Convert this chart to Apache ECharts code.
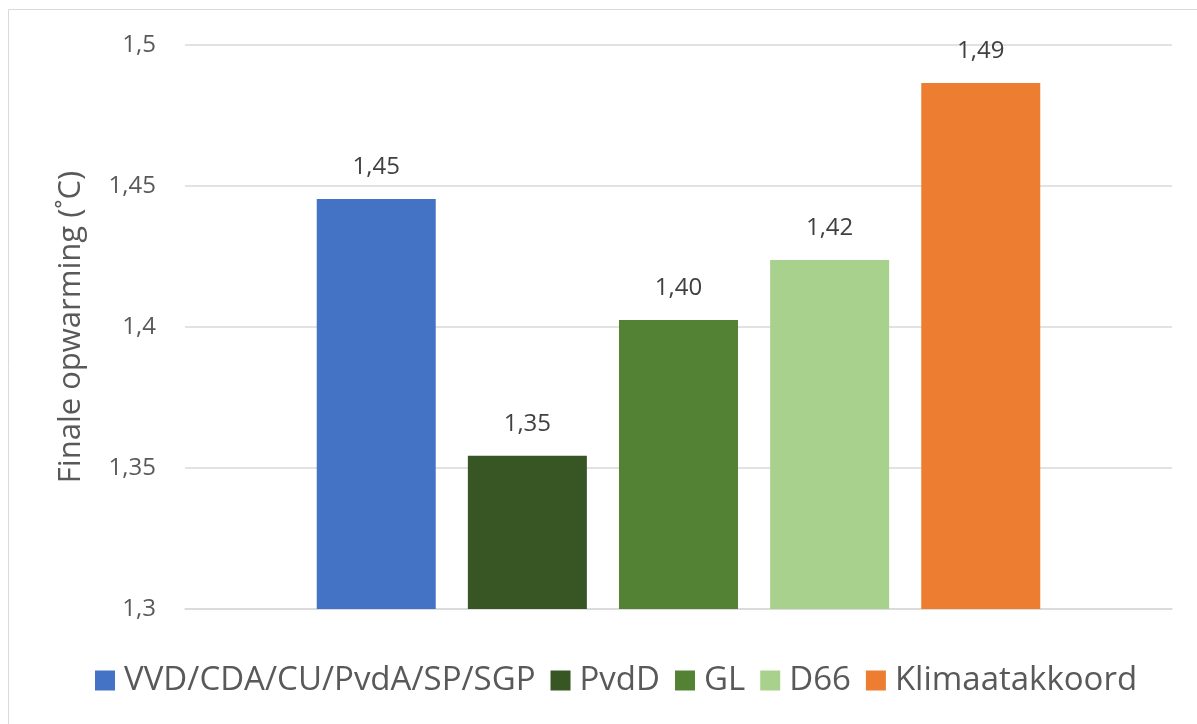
<!DOCTYPE html>
<html>
<head>
    <meta charset="utf-8">
    <title>Finale opwarming</title>
    <script src="https://cdn.jsdelivr.net/npm/echarts@6/dist/echarts.min.js"></script>
    <style>
        html, body { margin: 0; padding: 0; background: #fff; }
    </style>
</head>
<body>
<div id="main" style="width: 1197px;height:724px;"></div>
<script type="text/javascript">
    // gegevens
    var partijen = ['VVD/CDA/CU/PvdA/SP/SGP', 'PvdD', 'GL', 'D66', 'Klimaatakkoord'];
    var opwarming = [1.4454, 1.3543, 1.4025, 1.4238, 1.4865];
    var kleuren = ['#4472C4', '#375623', '#548235', '#A9D18E', '#ED7D31'];
    var yTicks = [1.3, 1.35, 1.4, 1.45, 1.5];

    var fontFam = '"Open Sans", "Noto Sans", sans-serif';

    function komma(v, d) {
        return v.toFixed(d).replace('.', ',');
    }

    var series = partijen.map(function (naam, i) {
        return {
            name: naam,
            type: 'bar',
            data: [opwarming[i]],
            barWidth: 119,
            barGap: '27%',
            itemStyle: { color: kleuren[i] },
            label: {
                show: true,
                position: 'top',
                distance: 20,
                color: '#404040',
                fontFamily: fontFam,
                fontSize: 24,
                formatter: function (p) { return komma(p.value, 2); }
            }
        };
    });

    var myChart = echarts.init(document.getElementById('main'));
    myChart.setOption({
        animation: false,
        graphic: [{
            type: 'rect',
            shape: { x: 8.5, y: 9.5, width: 1200, height: 730 },
            style: { fill: null, stroke: '#d9d9d9', lineWidth: 1 }
        }],
        grid: { left: 185, right: 25, top: 45, bottom: 115 },
        legend: {
            bottom: 22,
            left: 90,
            itemWidth: 20,
            itemHeight: 20,
            itemGap: 15,
            icon: 'rect',
            textStyle: { color: '#595959', fontFamily: fontFam, fontSize: 33, padding: [0, 0, 0, 4] },
            data: partijen
        },
        xAxis: {
            type: 'category',
            data: [''],
            axisLine: { lineStyle: { color: '#d9d9d9', width: 1.5 } },
            axisTick: { show: false },
            axisLabel: { show: false }
        },
        yAxis: {
            type: 'value',
            min: yTicks[0],
            max: yTicks[yTicks.length - 1],
            interval: 0.05,
            name: 'Finale opwarming (˚C)',
            nameLocation: 'middle',
            nameGap: 98,
            nameTextStyle: { color: '#595959', fontFamily: fontFam, fontSize: 31 },
            axisLine: { show: false },
            axisTick: { show: false },
            splitLine: { lineStyle: { color: '#d9d9d9', width: 1.5 } },
            axisLabel: {
                color: '#595959',
                fontFamily: fontFam,
                fontSize: 24,
                margin: 29,
                formatter: function (v) {
                    var s = String(Math.round(v * 100) / 100);
                    return s.replace('.', ',');
                }
            }
        },
        series: series
    });
</script>
</body>
</html>
